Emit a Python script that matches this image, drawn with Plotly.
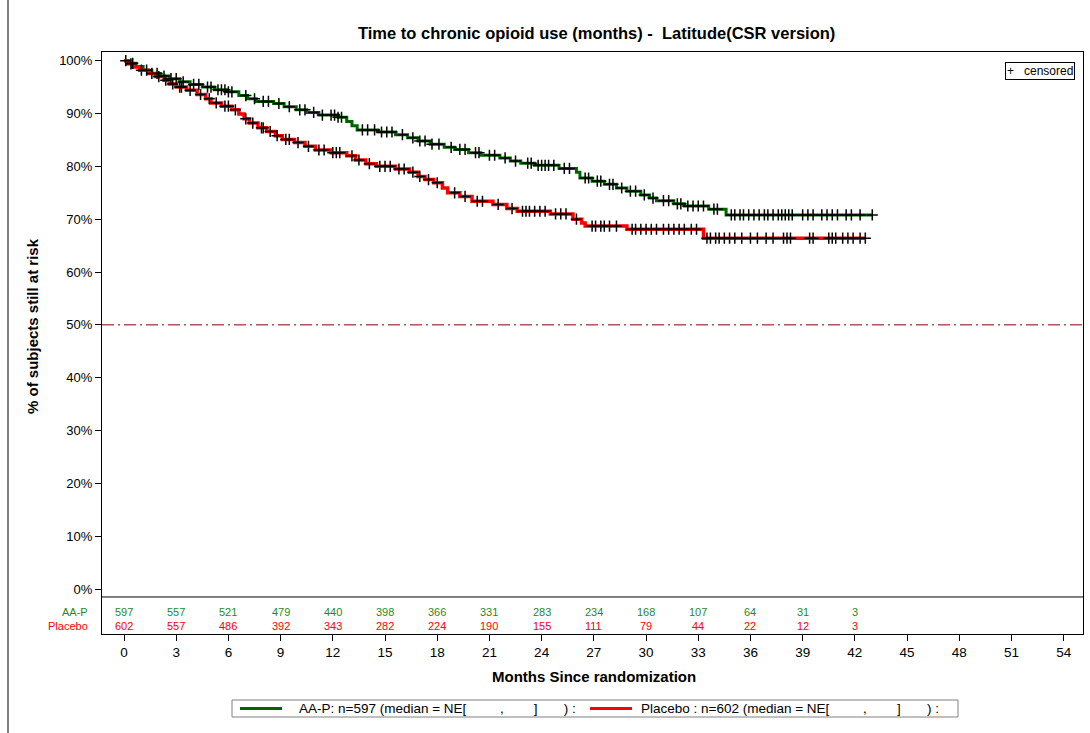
import plotly.graph_objects as go
import bisect

# ---------------- data ----------------
aap_t = [0, 0.3, 0.7, 1.1, 1.6, 2.1, 2.6, 3.2, 3.8, 4.5, 5.2, 5.9, 6.6, 7.1, 7.6, 8.6, 9.2, 9.9,
         10.5, 11.2, 12.3, 12.8, 13.1, 13.4, 14.6, 15.6, 16.3, 16.9, 17.6, 18.4, 19.0, 19.8, 20.5,
         21.6, 22.2, 22.8, 23.6, 25.0, 26.0, 26.2, 26.9, 27.6, 28.3, 28.9, 29.7, 30.2, 30.6, 31.6,
         32.2, 33.6, 34.6, 43.0]
aap_s = [100, 99.5, 98.9, 98.2, 97.6, 97.1, 96.6, 96.0, 95.5, 95.0, 94.5, 94.1, 93.4, 92.8, 92.3,
         91.9, 91.3, 90.7, 90.2, 89.7, 89.3, 88.5, 87.7, 86.9, 86.5, 86.0, 85.4, 84.8, 84.2, 83.6,
         83.2, 82.6, 82.1, 81.6, 81.0, 80.6, 80.2, 79.6, 78.9, 77.8, 77.2, 76.6, 75.9, 75.3, 74.6,
         74.0, 73.5, 72.9, 72.5, 71.9, 70.8, 70.8]
aap_cens = [0.1, 0.5, 1.3, 1.9, 2.3, 2.7, 3.0, 3.4, 4.0, 4.3, 4.8, 5.0, 5.4, 5.6, 5.8, 6.0, 6.2, 7.0,
            7.5, 8.0, 8.3, 8.9, 9.5, 10.1, 10.4, 10.9, 11.4, 11.9, 12.1, 12.3, 12.5, 13.7, 14.0, 14.4,
            14.8, 15.1, 15.4, 16.0, 16.6, 17.0, 17.3, 17.7, 18.1, 18.8, 19.3, 19.6, 20.2, 20.4, 21.0,
            21.3, 21.9, 22.5, 23.2, 23.4, 23.8, 24.0, 24.2, 24.4, 24.7, 25.3, 25.6, 26.5, 26.7, 27.2,
            27.4, 27.9, 28.1, 28.6, 29.1, 29.4, 29.9, 30.4, 31.0, 31.3, 31.8, 32.0, 32.4, 32.7, 33.0,
            33.3, 33.9, 34.1, 34.9, 35.1, 35.4, 35.6, 35.9, 36.2, 36.5, 36.8, 37.0, 37.3, 37.6, 37.8,
            38.0, 38.2, 38.4, 39.0, 39.3, 39.6, 40.1, 40.4, 40.7, 41.0, 41.5, 41.8, 42.3, 43.0]

pla_t = [0, 0.2, 0.5, 0.9, 1.4, 1.8, 2.3, 2.6, 3.0, 3.6, 4.2, 4.7, 5.0, 5.6, 6.2, 6.6, 6.9, 7.2,
         7.7, 8.2, 8.7, 9.1, 9.8, 10.4, 11.0, 11.9, 12.8, 13.3, 13.9, 14.5, 15.6, 16.4, 16.9, 17.3,
         17.8, 18.3, 18.6, 19.3, 20.0, 21.2, 22.0, 22.6, 24.5, 25.8, 26.3, 26.5, 28.9, 33.3, 42.6]
pla_s = [100, 99.4, 98.8, 98.2, 97.6, 97.0, 96.3, 95.6, 95.0, 94.4, 93.6, 92.8, 92.0, 91.4, 90.7,
         89.9, 89.0, 88.2, 87.3, 86.6, 85.8, 85.1, 84.5, 83.8, 83.1, 82.6, 82.0, 81.2, 80.5, 80.0,
         79.5, 78.9, 78.1, 77.5, 76.9, 75.9, 75.0, 74.3, 73.4, 72.8, 72.0, 71.5, 71.0, 70.0, 69.3,
         68.7, 68.1, 66.4, 66.4]
pla_cens = [0.4, 1.0, 1.6, 2.0, 2.4, 2.8, 3.2, 3.3, 3.8, 4.4, 4.9, 5.3, 5.8, 6.0, 6.4, 7.0, 7.4, 7.9,
            8.0, 8.4, 8.8, 9.3, 9.5, 10.0, 10.6, 11.2, 11.5, 12.0, 12.2, 12.4, 13.1, 13.5, 14.1, 14.7,
            15.0, 15.3, 15.8, 16.1, 16.6, 17.0, 17.5, 18.0, 19.0, 19.6, 20.3, 20.6, 21.5, 22.3, 22.9,
            23.1, 23.3, 23.6, 23.9, 24.2, 24.8, 25.1, 25.4, 26.0, 26.9, 27.1, 27.4, 27.6, 27.9, 28.3,
            29.2, 29.4, 29.7, 30.0, 30.3, 30.6, 31.0, 31.3, 31.6, 31.9, 32.2, 32.6, 32.9, 33.5, 33.7,
            34.0, 34.2, 34.5, 34.8, 35.1, 35.5, 36.0, 36.4, 36.9, 37.3, 37.9, 38.1, 38.3, 39.4, 39.6,
            40.5, 40.7, 40.9, 41.3, 41.6, 41.9, 42.3, 42.6]

risk_times = [0, 3, 6, 9, 12, 15, 18, 21, 24, 27, 30, 33, 36, 39, 42]
risk_aap = [597, 557, 521, 479, 440, 398, 366, 331, 283, 234, 168, 107, 64, 31, 3]
risk_pla = [602, 557, 486, 392, 343, 282, 224, 190, 155, 111, 79, 44, 22, 12, 3]

x_ticks = list(range(0, 55, 3))
y_ticks = list(range(0, 101, 10))
y_ticklabels = [f"{v}%" for v in y_ticks]

title = "Time to chronic opioid use (months) -  Latitude(CSR version)"
x_title = "Months Since randomization"
y_title = "% of subjects still at risk"
sp = "\u00a0"
leg_aap = f"AA-P: n=597 (median = NE[{sp*9},{sp*8}]{sp*7}) :"
leg_pla = f"Placebo : n=602 (median = NE[{sp*9},{sp*8}]{sp*7}) :"

GREEN_LINE = "#006400"
GREEN_TXT = "#1f8a1f"
RED = "#ff0000"
FONT = "Liberation Sans, Arial, sans-serif"


def step_value(ts, ss, t):
    i = bisect.bisect_right(ts, t) - 1
    return ss[max(i, 0)]


def px_x(px):
    return (px - 102) / 981.0


def px_y(py):
    return (634 - py) / 582.0


fig = go.Figure()

fig.add_trace(go.Scatter(x=aap_t, y=aap_s, mode="lines", line=dict(color=GREEN_LINE, width=3, shape="hv"),
                         name="AA-P", showlegend=False))
fig.add_trace(go.Scatter(x=pla_t, y=pla_s, mode="lines", line=dict(color=RED, width=3.5, shape="hv"),
                         name="Placebo", showlegend=False))

for ts, ss, cens in [(aap_t, aap_s, aap_cens), (pla_t, pla_s, pla_cens)]:
    fig.add_trace(go.Scatter(x=cens, y=[step_value(ts, ss, c) for c in cens], mode="markers",
                             marker=dict(symbol="cross-thin", size=8, line=dict(color="black", width=1.5)),
                             showlegend=False, hoverinfo="skip"))

# 50% reference line
fig.add_hline(y=50, line=dict(color="#800000", width=1, dash="12px,4px,2px,4px"))
# separator between plot and at-risk table
fig.add_hline(y=-1.51, line=dict(color="black", width=1))

# at-risk table
for t, a, p in zip(risk_times, risk_aap, risk_pla):
    fig.add_annotation(x=t, y=-4.3, text=str(a), showarrow=False, font=dict(size=11, color=GREEN_TXT, family=FONT))
    fig.add_annotation(x=t, y=-7.0, text=str(p), showarrow=False, font=dict(size=11, color=RED, family=FONT))
fig.add_annotation(x=px_x(90), xref="paper", y=-4.3, text="AA-P", xanchor="right", showarrow=False,
                   font=dict(size=11, color=GREEN_TXT, family=FONT))
fig.add_annotation(x=px_x(90), xref="paper", y=-7.0, text="Placebo", xanchor="right", showarrow=False,
                   font=dict(size=11, color=RED, family=FONT))

# titles
fig.add_annotation(x=px_x(596), y=px_y(33), xref="paper", yref="paper", xanchor="center", yanchor="middle",
                   text=f"<b>{title}</b>", showarrow=False, font=dict(size=16.5, color="black", family=FONT))
fig.add_annotation(x=px_x(594), y=px_y(676), xref="paper", yref="paper", xanchor="center", yanchor="middle",
                   text=f"<b>{x_title}</b>", showarrow=False, font=dict(size=15, color="black", family=FONT))
fig.add_annotation(x=px_x(32), y=px_y(326), xref="paper", yref="paper", xanchor="center", yanchor="middle",
                   text=f"<b>{y_title}</b>", showarrow=False, textangle=-90,
                   font=dict(size=15, color="black", family=FONT))

# censored legend box
fig.add_annotation(x=px_x(1075), y=px_y(62), xref="paper", yref="paper", xanchor="right", yanchor="top",
                   text=f"+{sp*3}censored", showarrow=False, bordercolor="black", borderwidth=1, borderpad=1,
                   bgcolor="white", font=dict(size=12, color="black", family=FONT))

# bottom legend (manual)
fig.add_shape(type="rect", xref="paper", yref="paper", x0=px_x(232), x1=px_x(958), y0=px_y(717), y1=px_y(700),
              line=dict(color="#808080", width=1), fillcolor="white")
fig.add_shape(type="line", xref="paper", yref="paper", x0=px_x(240), x1=px_x(282), y0=px_y(708.5), y1=px_y(708.5),
              line=dict(color=GREEN_LINE, width=3))
fig.add_shape(type="line", xref="paper", yref="paper", x0=px_x(590), x1=px_x(632), y0=px_y(708.5), y1=px_y(708.5),
              line=dict(color=RED, width=3))
fig.add_annotation(x=px_x(297), y=px_y(708.5), xref="paper", yref="paper", xanchor="left", yanchor="middle",
                   text=leg_aap, showarrow=False, font=dict(size=13.5, color="black", family=FONT))
fig.add_annotation(x=px_x(639), y=px_y(708.5), xref="paper", yref="paper", xanchor="left", yanchor="middle",
                   text=leg_pla, showarrow=False, font=dict(size=13.5, color="black", family=FONT))

# outer frame (left edge)
fig.add_shape(type="line", xref="paper", yref="paper", x0=px_x(8), x1=px_x(8), y0=px_y(740), y1=px_y(-5),
              line=dict(color="black", width=1))

fig.update_layout(
    width=1090, height=733,
    margin=dict(l=102, r=7, t=52, b=99),
    paper_bgcolor="white", plot_bgcolor="white",
    font=dict(family=FONT, size=13, color="black"),
    showlegend=False,
    xaxis=dict(range=[-1.264, 55.11], tickvals=x_ticks, ticktext=[str(v) for v in x_ticks],
               ticks="outside", ticklen=6, tickcolor="black", showline=True, linecolor="black",
               linewidth=1, mirror=True, showgrid=False, zeroline=False, tickfont=dict(size=13.5)),
    yaxis=dict(range=[-8.518, 101.647], tickvals=y_ticks, ticktext=y_ticklabels,
               ticks="outside", ticklen=6, tickcolor="black", showline=True, linecolor="black",
               linewidth=1, mirror=True, showgrid=False, zeroline=False, tickfont=dict(size=13)),
)

fig.write_html("out.html")
